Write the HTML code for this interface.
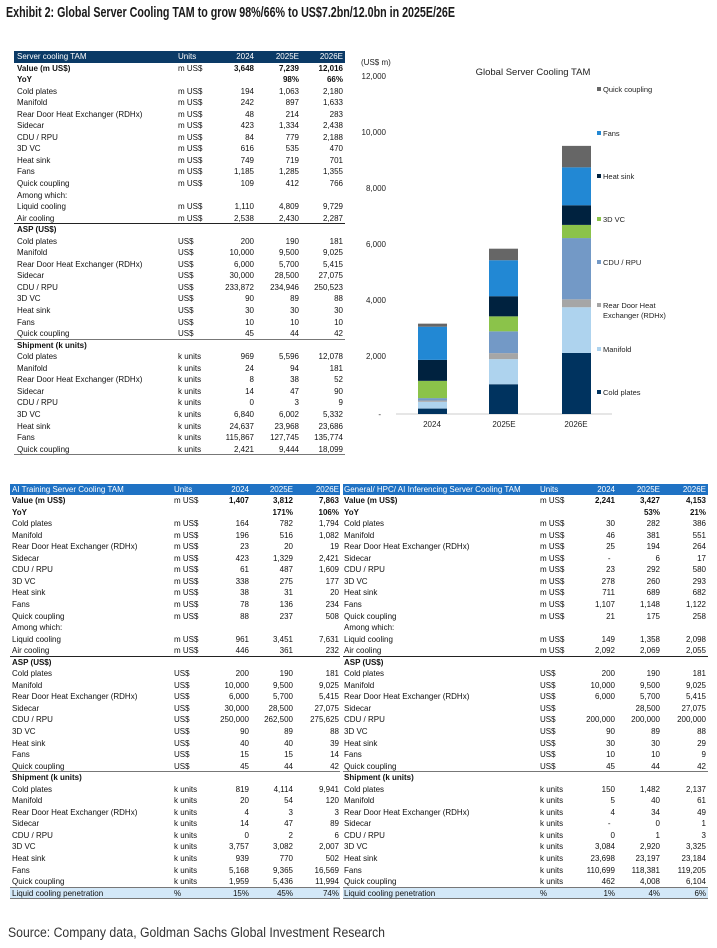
<!DOCTYPE html>
<html><head><meta charset="utf-8">
<style>
html,body{margin:0;padding:0;background:#fff;}
body{width:717px;height:948px;position:relative;overflow:hidden;font-family:"Liberation Sans",Arial,sans-serif;color:#111;}
.t{position:absolute;}
.r{position:relative;height:11.56px;line-height:11.56px;font-size:8px;box-sizing:border-box;}
.r span{position:absolute;top:0;white-space:nowrap;}
.r span:nth-child(1){left:var(--l);}
.r span:nth-child(2){left:var(--u);}
.r span:nth-child(3){right:var(--a);}
.r span:nth-child(4){right:var(--b);}
.r span:nth-child(5){right:var(--c);}
.bd{font-weight:bold;}
.bd span:nth-child(2){font-weight:normal;}
.ln{border-bottom:1px solid #222;}
.lg{border-bottom:1.5px solid #777;}
.h{color:#fff;}
.pen{background:#d3e8f8;border-bottom:1.5px solid #777;}
#t1{left:14px;top:51px;width:331px;--l:3px;--u:164px;--a:91px;--b:46px;--c:2px;}
#t1 .h{background:#0b3a66;}
#t2{left:10px;top:483.5px;width:330px;--l:2px;--u:164px;--a:91px;--b:47px;--c:1px;}
#t2 .h{background:#1f72c4;}
#t3{left:343px;top:483.5px;width:365px;--l:1px;--u:197px;--a:93px;--b:48px;--c:2px;}
#t3 .h{background:#1f72c4;}
</style></head><body>

<svg class="t" style="left:0;top:0" width="717" height="30">
<text x="6" y="17" font-family="Liberation Sans, Arial, sans-serif" font-size="15" font-weight="bold" fill="#1a1a1a" textLength="449" lengthAdjust="spacingAndGlyphs">Exhibit 2: Global Server Cooling TAM to grow 98%/66% to US$7.2bn/12.0bn in 2025E/26E</text>
</svg>

<div class="t" id="t1">
<div class="r h"><span>Server cooling TAM</span><span>Units</span><span>2024</span><span>2025E</span><span>2026E</span></div>
<div class="r bd"><span>Value (m US$)</span><span>m US$</span><span>3,648</span><span>7,239</span><span>12,016</span></div>
<div class="r bd"><span>YoY</span><span></span><span></span><span>98%</span><span>66%</span></div>
<div class="r"><span>Cold plates</span><span>m US$</span><span>194</span><span>1,063</span><span>2,180</span></div>
<div class="r"><span>Manifold</span><span>m US$</span><span>242</span><span>897</span><span>1,633</span></div>
<div class="r"><span>Rear Door Heat Exchanger (RDHx)</span><span>m US$</span><span>48</span><span>214</span><span>283</span></div>
<div class="r"><span>Sidecar</span><span>m US$</span><span>423</span><span>1,334</span><span>2,438</span></div>
<div class="r"><span>CDU / RPU</span><span>m US$</span><span>84</span><span>779</span><span>2,188</span></div>
<div class="r"><span>3D VC</span><span>m US$</span><span>616</span><span>535</span><span>470</span></div>
<div class="r"><span>Heat sink</span><span>m US$</span><span>749</span><span>719</span><span>701</span></div>
<div class="r"><span>Fans</span><span>m US$</span><span>1,185</span><span>1,285</span><span>1,355</span></div>
<div class="r"><span>Quick coupling</span><span>m US$</span><span>109</span><span>412</span><span>766</span></div>
<div class="r"><span>Among which:</span></div>
<div class="r"><span>Liquid cooling</span><span>m US$</span><span>1,110</span><span>4,809</span><span>9,729</span></div>
<div class="r ln"><span>Air cooling</span><span>m US$</span><span>2,538</span><span>2,430</span><span>2,287</span></div>
<div class="r bd"><span>ASP (US$)</span></div>
<div class="r"><span>Cold plates</span><span>US$</span><span>200</span><span>190</span><span>181</span></div>
<div class="r"><span>Manifold</span><span>US$</span><span>10,000</span><span>9,500</span><span>9,025</span></div>
<div class="r"><span>Rear Door Heat Exchanger (RDHx)</span><span>US$</span><span>6,000</span><span>5,700</span><span>5,415</span></div>
<div class="r"><span>Sidecar</span><span>US$</span><span>30,000</span><span>28,500</span><span>27,075</span></div>
<div class="r"><span>CDU / RPU</span><span>US$</span><span>233,872</span><span>234,946</span><span>250,523</span></div>
<div class="r"><span>3D VC</span><span>US$</span><span>90</span><span>89</span><span>88</span></div>
<div class="r"><span>Heat sink</span><span>US$</span><span>30</span><span>30</span><span>30</span></div>
<div class="r"><span>Fans</span><span>US$</span><span>10</span><span>10</span><span>10</span></div>
<div class="r lg"><span>Quick coupling</span><span>US$</span><span>45</span><span>44</span><span>42</span></div>
<div class="r bd"><span>Shipment (k units)</span></div>
<div class="r"><span>Cold plates</span><span>k units</span><span>969</span><span>5,596</span><span>12,078</span></div>
<div class="r"><span>Manifold</span><span>k units</span><span>24</span><span>94</span><span>181</span></div>
<div class="r"><span>Rear Door Heat Exchanger (RDHx)</span><span>k units</span><span>8</span><span>38</span><span>52</span></div>
<div class="r"><span>Sidecar</span><span>k units</span><span>14</span><span>47</span><span>90</span></div>
<div class="r"><span>CDU / RPU</span><span>k units</span><span>0</span><span>3</span><span>9</span></div>
<div class="r"><span>3D VC</span><span>k units</span><span>6,840</span><span>6,002</span><span>5,332</span></div>
<div class="r"><span>Heat sink</span><span>k units</span><span>24,637</span><span>23,968</span><span>23,686</span></div>
<div class="r"><span>Fans</span><span>k units</span><span>115,867</span><span>127,745</span><span>135,774</span></div>
<div class="r lg"><span>Quick coupling</span><span>k units</span><span>2,421</span><span>9,444</span><span>18,099</span></div>
</div>

<svg class="t" style="left:360px;top:40px" width="357" height="400" viewBox="360 40 357 400" font-family="Liberation Sans, Arial, sans-serif">
<text x="361" y="65" font-size="8" fill="#222">(US$ m)</text>
<text x="533" y="75" font-size="9.5" fill="#222" text-anchor="middle">Global Server Cooling TAM</text>
<g font-size="8" fill="#222" text-anchor="end">
<text x="386" y="79">12,000</text>
<text x="386" y="135">10,000</text>
<text x="386" y="191">8,000</text>
<text x="386" y="247">6,000</text>
<text x="386" y="303">4,000</text>
<text x="386" y="359">2,000</text>
<text x="381" y="417">-</text>
</g>
<line x1="396" y1="414" x2="612" y2="414" stroke="#ccc" stroke-width="1"/>
<g>
<rect x="418" y="408.57" width="29" height="5.43" fill="#00335f"/>
<rect x="418" y="401.79" width="29" height="6.78" fill="#aed3ee"/>
<rect x="418" y="400.45" width="29" height="1.34" fill="#a6a6a6"/>
<rect x="418" y="398.10" width="29" height="2.35" fill="#7399c6"/>
<rect x="418" y="380.85" width="29" height="17.25" fill="#8bc34a"/>
<rect x="418" y="359.88" width="29" height="20.97" fill="#00223f"/>
<rect x="418" y="326.70" width="29" height="33.18" fill="#2288d4"/>
<rect x="418" y="323.65" width="29" height="3.05" fill="#666"/>

<rect x="489" y="384.24" width="29" height="29.76" fill="#00335f"/>
<rect x="489" y="359.12" width="29" height="25.12" fill="#aed3ee"/>
<rect x="489" y="353.13" width="29" height="5.99" fill="#a6a6a6"/>
<rect x="489" y="331.32" width="29" height="21.81" fill="#7399c6"/>
<rect x="489" y="316.34" width="29" height="14.98" fill="#8bc34a"/>
<rect x="489" y="296.21" width="29" height="20.13" fill="#00223f"/>
<rect x="489" y="260.23" width="29" height="35.98" fill="#2288d4"/>
<rect x="489" y="248.69" width="29" height="11.54" fill="#666"/>

<rect x="562" y="352.96" width="29" height="61.04" fill="#00335f"/>
<rect x="562" y="307.24" width="29" height="45.72" fill="#aed3ee"/>
<rect x="562" y="299.32" width="29" height="7.92" fill="#a6a6a6"/>
<rect x="562" y="238.06" width="29" height="61.26" fill="#7399c6"/>
<rect x="562" y="224.90" width="29" height="13.16" fill="#8bc34a"/>
<rect x="562" y="205.27" width="29" height="19.63" fill="#00223f"/>
<rect x="562" y="167.33" width="29" height="37.94" fill="#2288d4"/>
<rect x="562" y="145.88" width="29" height="21.45" fill="#666"/>
</g>
<g font-size="8" fill="#222" text-anchor="middle">
<text x="432" y="427">2024</text>
<text x="504" y="427">2025E</text>
<text x="576" y="427">2026E</text>
</g>
<g font-size="7.5" fill="#222">
<rect x="597" y="87" width="4" height="4" fill="#666"/><text x="603" y="92">Quick coupling</text>
<rect x="597" y="131" width="4" height="4" fill="#2288d4"/><text x="603" y="136">Fans</text>
<rect x="597" y="174" width="4" height="4" fill="#00223f"/><text x="603" y="179">Heat sink</text>
<rect x="597" y="217" width="4" height="4" fill="#8bc34a"/><text x="603" y="222">3D VC</text>
<rect x="597" y="260" width="4" height="4" fill="#7399c6"/><text x="603" y="265">CDU / RPU</text>
<rect x="597" y="303" width="4" height="4" fill="#a6a6a6"/><text x="603" y="308">Rear Door Heat</text><text x="603" y="318">Exchanger (RDHx)</text>
<rect x="597" y="347" width="4" height="4" fill="#aed3ee"/><text x="603" y="352">Manifold</text>
<rect x="597" y="390" width="4" height="4" fill="#00335f"/><text x="603" y="395">Cold plates</text>
</g>
</svg>

<div class="t" id="t2">
<div class="r h"><span>AI Training Server Cooling TAM</span><span>Units</span><span>2024</span><span>2025E</span><span>2026E</span></div>
<div class="r bd"><span>Value (m US$)</span><span>m US$</span><span>1,407</span><span>3,812</span><span>7,863</span></div>
<div class="r bd"><span>YoY</span><span></span><span></span><span>171%</span><span>106%</span></div>
<div class="r"><span>Cold plates</span><span>m US$</span><span>164</span><span>782</span><span>1,794</span></div>
<div class="r"><span>Manifold</span><span>m US$</span><span>196</span><span>516</span><span>1,082</span></div>
<div class="r"><span>Rear Door Heat Exchanger (RDHx)</span><span>m US$</span><span>23</span><span>20</span><span>19</span></div>
<div class="r"><span>Sidecar</span><span>m US$</span><span>423</span><span>1,329</span><span>2,421</span></div>
<div class="r"><span>CDU / RPU</span><span>m US$</span><span>61</span><span>487</span><span>1,609</span></div>
<div class="r"><span>3D VC</span><span>m US$</span><span>338</span><span>275</span><span>177</span></div>
<div class="r"><span>Heat sink</span><span>m US$</span><span>38</span><span>31</span><span>20</span></div>
<div class="r"><span>Fans</span><span>m US$</span><span>78</span><span>136</span><span>234</span></div>
<div class="r"><span>Quick coupling</span><span>m US$</span><span>88</span><span>237</span><span>508</span></div>
<div class="r"><span>Among which:</span></div>
<div class="r"><span>Liquid cooling</span><span>m US$</span><span>961</span><span>3,451</span><span>7,631</span></div>
<div class="r ln"><span>Air cooling</span><span>m US$</span><span>446</span><span>361</span><span>232</span></div>
<div class="r bd"><span>ASP (US$)</span></div>
<div class="r"><span>Cold plates</span><span>US$</span><span>200</span><span>190</span><span>181</span></div>
<div class="r"><span>Manifold</span><span>US$</span><span>10,000</span><span>9,500</span><span>9,025</span></div>
<div class="r"><span>Rear Door Heat Exchanger (RDHx)</span><span>US$</span><span>6,000</span><span>5,700</span><span>5,415</span></div>
<div class="r"><span>Sidecar</span><span>US$</span><span>30,000</span><span>28,500</span><span>27,075</span></div>
<div class="r"><span>CDU / RPU</span><span>US$</span><span>250,000</span><span>262,500</span><span>275,625</span></div>
<div class="r"><span>3D VC</span><span>US$</span><span>90</span><span>89</span><span>88</span></div>
<div class="r"><span>Heat sink</span><span>US$</span><span>40</span><span>40</span><span>39</span></div>
<div class="r"><span>Fans</span><span>US$</span><span>15</span><span>15</span><span>14</span></div>
<div class="r lg"><span>Quick coupling</span><span>US$</span><span>45</span><span>44</span><span>42</span></div>
<div class="r bd"><span>Shipment (k units)</span></div>
<div class="r"><span>Cold plates</span><span>k units</span><span>819</span><span>4,114</span><span>9,941</span></div>
<div class="r"><span>Manifold</span><span>k units</span><span>20</span><span>54</span><span>120</span></div>
<div class="r"><span>Rear Door Heat Exchanger (RDHx)</span><span>k units</span><span>4</span><span>3</span><span>3</span></div>
<div class="r"><span>Sidecar</span><span>k units</span><span>14</span><span>47</span><span>89</span></div>
<div class="r"><span>CDU / RPU</span><span>k units</span><span>0</span><span>2</span><span>6</span></div>
<div class="r"><span>3D VC</span><span>k units</span><span>3,757</span><span>3,082</span><span>2,007</span></div>
<div class="r"><span>Heat sink</span><span>k units</span><span>939</span><span>770</span><span>502</span></div>
<div class="r"><span>Fans</span><span>k units</span><span>5,168</span><span>9,365</span><span>16,569</span></div>
<div class="r lg"><span>Quick coupling</span><span>k units</span><span>1,959</span><span>5,436</span><span>11,994</span></div>
<div class="r pen"><span>Liquid cooling penetration</span><span>%</span><span>15%</span><span>45%</span><span>74%</span></div>
</div>

<div class="t" id="t3">
<div class="r h"><span>General/ HPC/ AI Inferencing Server Cooling TAM</span><span>Units</span><span>2024</span><span>2025E</span><span>2026E</span></div>
<div class="r bd"><span>Value (m US$)</span><span>m US$</span><span>2,241</span><span>3,427</span><span>4,153</span></div>
<div class="r bd"><span>YoY</span><span></span><span></span><span>53%</span><span>21%</span></div>
<div class="r"><span>Cold plates</span><span>m US$</span><span>30</span><span>282</span><span>386</span></div>
<div class="r"><span>Manifold</span><span>m US$</span><span>46</span><span>381</span><span>551</span></div>
<div class="r"><span>Rear Door Heat Exchanger (RDHx)</span><span>m US$</span><span>25</span><span>194</span><span>264</span></div>
<div class="r"><span>Sidecar</span><span>m US$</span><span>-&nbsp;&nbsp;</span><span>6</span><span>17</span></div>
<div class="r"><span>CDU / RPU</span><span>m US$</span><span>23</span><span>292</span><span>580</span></div>
<div class="r"><span>3D VC</span><span>m US$</span><span>278</span><span>260</span><span>293</span></div>
<div class="r"><span>Heat sink</span><span>m US$</span><span>711</span><span>689</span><span>682</span></div>
<div class="r"><span>Fans</span><span>m US$</span><span>1,107</span><span>1,148</span><span>1,122</span></div>
<div class="r"><span>Quick coupling</span><span>m US$</span><span>21</span><span>175</span><span>258</span></div>
<div class="r"><span>Among which:</span></div>
<div class="r"><span>Liquid cooling</span><span>m US$</span><span>149</span><span>1,358</span><span>2,098</span></div>
<div class="r ln"><span>Air cooling</span><span>m US$</span><span>2,092</span><span>2,069</span><span>2,055</span></div>
<div class="r bd"><span>ASP (US$)</span></div>
<div class="r"><span>Cold plates</span><span>US$</span><span>200</span><span>190</span><span>181</span></div>
<div class="r"><span>Manifold</span><span>US$</span><span>10,000</span><span>9,500</span><span>9,025</span></div>
<div class="r"><span>Rear Door Heat Exchanger (RDHx)</span><span>US$</span><span>6,000</span><span>5,700</span><span>5,415</span></div>
<div class="r"><span>Sidecar</span><span>US$</span><span></span><span>28,500</span><span>27,075</span></div>
<div class="r"><span>CDU / RPU</span><span>US$</span><span>200,000</span><span>200,000</span><span>200,000</span></div>
<div class="r"><span>3D VC</span><span>US$</span><span>90</span><span>89</span><span>88</span></div>
<div class="r"><span>Heat sink</span><span>US$</span><span>30</span><span>30</span><span>29</span></div>
<div class="r"><span>Fans</span><span>US$</span><span>10</span><span>10</span><span>9</span></div>
<div class="r lg"><span>Quick coupling</span><span>US$</span><span>45</span><span>44</span><span>42</span></div>
<div class="r bd"><span>Shipment (k units)</span></div>
<div class="r"><span>Cold plates</span><span>k units</span><span>150</span><span>1,482</span><span>2,137</span></div>
<div class="r"><span>Manifold</span><span>k units</span><span>5</span><span>40</span><span>61</span></div>
<div class="r"><span>Rear Door Heat Exchanger (RDHx)</span><span>k units</span><span>4</span><span>34</span><span>49</span></div>
<div class="r"><span>Sidecar</span><span>k units</span><span>-&nbsp;&nbsp;</span><span>0</span><span>1</span></div>
<div class="r"><span>CDU / RPU</span><span>k units</span><span>0</span><span>1</span><span>3</span></div>
<div class="r"><span>3D VC</span><span>k units</span><span>3,084</span><span>2,920</span><span>3,325</span></div>
<div class="r"><span>Heat sink</span><span>k units</span><span>23,698</span><span>23,197</span><span>23,184</span></div>
<div class="r"><span>Fans</span><span>k units</span><span>110,699</span><span>118,381</span><span>119,205</span></div>
<div class="r lg"><span>Quick coupling</span><span>k units</span><span>462</span><span>4,008</span><span>6,104</span></div>
<div class="r pen"><span>Liquid cooling penetration</span><span>%</span><span>1%</span><span>4%</span><span>6%</span></div>
</div>

<svg class="t" style="left:0;top:920px" width="717" height="28">
<text x="8" y="17" font-family="Liberation Sans, Arial, sans-serif" font-size="13.5" fill="#333" textLength="377" lengthAdjust="spacingAndGlyphs">Source: Company data, Goldman Sachs Global Investment Research</text>
</svg>
</body></html>
